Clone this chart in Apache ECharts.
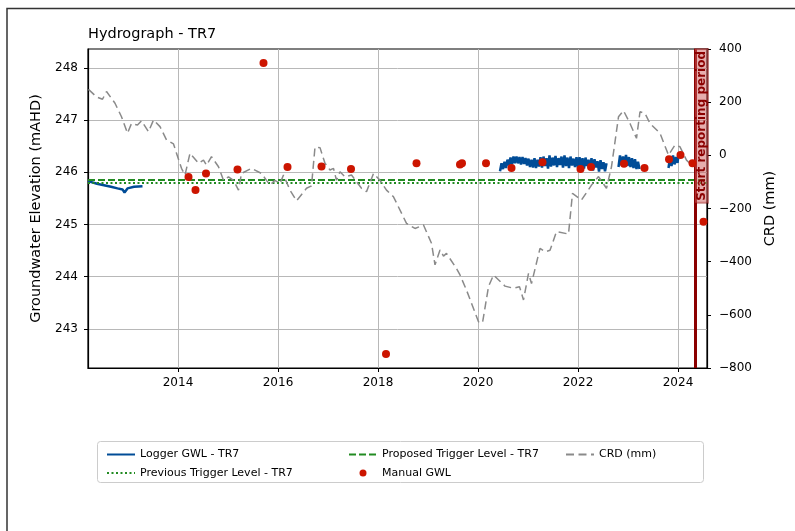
<!DOCTYPE html>
<html>
<head>
<meta charset="utf-8">
<script src="https://cdn.jsdelivr.net/npm/echarts@6/dist/echarts.min.js"></script>
<style>
  html, body { margin: 0; padding: 0; background: #fff; }
  #chart { width: 795px; height: 531px; }
</style>
</head>
<body>
<div id="chart"></div>
<script>
// logger groundwater level (decimal year / mAHD), null = gap between logger deployments
const loggerYears = [
  2012.20, 2012.24, 2012.38, 2012.52, 2012.66, 2012.79, 2012.89, 2012.93, 2012.99, 2013.12, 2013.29,
  2016.00,
  2020.44, 2020.47, 2020.50, 2020.53, 2020.56, 2020.59, 2020.62, 2020.65, 2020.68, 2020.71, 2020.74, 2020.77,
  2020.80, 2020.83, 2020.86, 2020.89, 2020.92, 2020.95, 2020.98, 2021.01, 2021.04, 2021.07, 2021.10, 2021.13,
  2021.16, 2021.19, 2021.22, 2021.25, 2021.28, 2021.31, 2021.34, 2021.37, 2021.40, 2021.43, 2021.46, 2021.49,
  2021.52, 2021.55, 2021.58, 2021.61, 2021.64, 2021.67, 2021.70, 2021.73, 2021.76, 2021.79, 2021.82, 2021.85,
  2021.88, 2021.91, 2021.94, 2021.97, 2022.00, 2022.03, 2022.06, 2022.09, 2022.12, 2022.15, 2022.18, 2022.21,
  2022.24, 2022.27, 2022.30, 2022.33, 2022.36, 2022.39, 2022.42, 2022.45, 2022.48, 2022.51, 2022.54, 2022.57,
  2022.70,
  2022.81, 2022.84, 2022.87, 2022.90, 2022.93, 2022.96, 2022.99, 2023.02, 2023.05, 2023.08, 2023.11, 2023.14,
  2023.17, 2023.20, 2023.23,
  2023.50,
  2023.81, 2023.84, 2023.87, 2023.90, 2023.93, 2023.96, 2023.99, 2024.01
];
const loggerLevels = [
  245.83, 245.82, 245.78, 245.75, 245.72, 245.69, 245.67, 245.61, 245.69, 245.72, 245.73,
  null,
  246.02, 246.17, 246.06, 246.20, 246.08, 246.24, 246.13, 246.28, 246.15, 246.30, 246.17, 246.30,
  246.17, 246.29, 246.15, 246.29, 246.16, 246.27, 246.13, 246.26, 246.10, 246.24, 246.09, 246.27,
  246.08, 246.24, 246.11, 246.29, 246.09, 246.30, 246.12, 246.27, 246.07, 246.32, 246.11, 246.28,
  246.13, 246.31, 246.10, 246.27, 246.14, 246.30, 246.09, 246.32, 246.12, 246.28, 246.08, 246.30,
  246.13, 246.26, 246.10, 246.29, 246.09, 246.29, 246.11, 246.27, 246.07, 246.28, 246.12, 246.24,
  246.05, 246.27, 246.03, 246.25, 246.09, 246.21, 246.01, 246.23, 246.06, 246.19, 246.02, 246.17,
  null,
  246.10, 246.32, 246.13, 246.30, 246.15, 246.33, 246.12, 246.29, 246.10, 246.27, 246.08, 246.25,
  246.06, 246.20, 246.06,
  null,
  246.08, 246.28, 246.12, 246.32, 246.15, 246.29, 246.18, 246.33
];

// manual dip readings
const manualYears = [
  2014.21, 2014.35, 2014.56, 2015.19, 2015.71, 2016.19, 2016.87, 2017.46, 2018.16, 2018.77,
  2019.64, 2019.68, 2020.16, 2020.67, 2021.29, 2022.05, 2022.26, 2022.92, 2023.33, 2023.82,
  2024.05, 2024.29, 2024.51
];
const manualLevels = [
  245.91, 245.66, 245.975, 246.05, 248.09, 246.10, 246.11, 246.06, 242.52, 246.17,
  246.15, 246.17, 246.17, 246.08, 246.19, 246.06, 246.10, 246.16, 246.08, 246.25,
  246.33, 246.17, 245.05
];

// cumulative rainfall departure (mm)
const crdYears = [
  2012.21, 2012.37, 2012.49, 2012.57, 2012.74, 2012.87, 2012.99, 2013.07, 2013.19, 2013.27,
  2013.41, 2013.51, 2013.64, 2013.77, 2013.91, 2013.97, 2014.07, 2014.14, 2014.24, 2014.41,
  2014.51, 2014.57, 2014.67, 2014.81, 2014.91, 2015.01, 2015.11, 2015.21, 2015.27, 2015.47,
  2015.67, 2015.77, 2015.84, 2015.94, 2016.04, 2016.11, 2016.24, 2016.37, 2016.57, 2016.67,
  2016.74, 2016.84, 2016.94, 2017.04, 2017.11, 2017.17, 2017.24, 2017.34, 2017.47, 2017.57,
  2017.67, 2017.77, 2017.91, 2018.04, 2018.17, 2018.31, 2018.57, 2018.74, 2018.91, 2019.07,
  2019.14, 2019.24, 2019.31, 2019.37, 2019.57, 2019.64, 2019.77, 2020.01, 2020.09, 2020.21,
  2020.31, 2020.54, 2020.71, 2020.83, 2020.91, 2021.01, 2021.07, 2021.24, 2021.34, 2021.44,
  2021.57, 2021.81, 2021.89, 2022.07, 2022.27, 2022.41, 2022.57, 2022.67, 2022.81, 2022.91,
  2023.04, 2023.17, 2023.24, 2023.34, 2023.44, 2023.64, 2023.81, 2023.94, 2024.04, 2024.17,
  2024.27
];
const crdValues = [
  248, 220, 211, 240, 196, 145, 83, 120, 114, 130,
  89, 133, 108, 58, 43, 8, -49, -74, 8, -30,
  -18, -37, -5, -43, -94, -81, -94, -131, -68, -49,
  -68, -94, -112, -94, -106, -74, -131, -171, -124, -115,
  31, 29, -30, -55, -49, -94, -62, -81, -74, -99,
  -124, -137, -68, -94, -131, -156, -256, -275, -262, -331,
  -412, -356, -379, -369, -426, -450, -507, -626, -630, -494,
  -450, -492, -500, -494, -544, -444, -482, -350, -363, -357,
  -287, -296, -143, -168, -112, -80, -124, -43, 145, 168,
  120, 64, 164, 158, 120, 83, 1, 39, 32, -18,
  -37
];

const proposedTrigger = 245.85;
const previousTrigger = 245.80;
const reportStart = 2024.34;

const yearTicks = [2014, 2016, 2018, 2020, 2022, 2024];
const levelTicks = [243, 244, 245, 246, 247, 248];

const FONT = 'DejaVu Sans';

const chart = echarts.init(document.getElementById('chart'), null, { renderer: 'canvas' });

const legendText = { fontFamily: FONT, fontSize: 11, color: '#000' };

let option = {
    animation: false,
    backgroundColor: '#fff',
    textStyle: { fontFamily: FONT },
    title: {
        text: 'Hydrograph - TR7',
        left: 88,
        top: 27,
        padding: 0,
        textStyle: { fontFamily: FONT, fontSize: 14.5, fontWeight: 'normal', color: '#000' }
    },
    grid: {
        left: 88,
        right: 88,
        top: 49,
        bottom: 163,
        show: true,
        borderColor: '#000',
        borderWidth: 1.2,
        containLabel: false
    },
    legend: [
        {
            orient: 'vertical', left: 101, top: 444, itemGap: 7.5, itemWidth: 28, itemHeight: 11,
            textStyle: legendText, itemStyle: { opacity: 0 },
            data: ['Logger GWL - TR7', 'Previous Trigger Level - TR7']
        },
        {
            orient: 'vertical', left: 343, top: 444, itemGap: 7.5, itemWidth: 28, itemHeight: 7,
            textStyle: legendText, itemStyle: { opacity: 0 },
            data: ['Proposed Trigger Level - TR7', { name: 'Manual GWL', itemStyle: { opacity: 1 } }]
        },
        {
            orient: 'vertical', left: 560, top: 444, itemGap: 7.5, itemWidth: 28, itemHeight: 11,
            textStyle: legendText, itemStyle: { opacity: 0 },
            data: ['CRD (mm)']
        }
    ],
    graphic: [
        {
            type: 'rect', silent: true,
            shape: { x: 97.5, y: 441.5, width: 606, height: 41, r: 3 },
            style: { fill: 'none', stroke: '#cccccc', lineWidth: 1 }
        },
        {
            type: 'polyline', silent: true,
            shape: { points: [[7, 531], [7, 8.5], [795, 8.5]] },
            style: { stroke: '#333', lineWidth: 1.5, fill: 'none' }
        }
    ],
    xAxis: {
        type: 'value',
        min: 2012.2,
        max: 2024.58,
        splitNumber: 5,
        axisLine: { show: true, onZero: false, lineStyle: { color: '#000', width: 1.2 } },
        axisTick: { show: true, length: 4, lineStyle: { color: '#000' }, customValues: yearTicks },
        axisLabel: {
            customValues: yearTicks,
            margin: 9, fontSize: 12, color: '#000', fontFamily: FONT,
            formatter: (v) => String(v)
        },
        splitLine: { show: true, lineStyle: { color: '#b8b8b8', width: 1 } }
    },
    yAxis: [
        {
            type: 'value',
            min: 242.25,
            max: 248.36,
            splitNumber: 5,
            name: 'Groundwater Elevation (mAHD)',
            nameLocation: 'middle',
            nameGap: 41,
            nameTextStyle: { fontFamily: FONT, fontSize: 14.5, color: '#000' },
            axisLine: { show: true, onZero: false, lineStyle: { color: '#000', width: 1.2 } },
            axisTick: { show: true, length: 4, lineStyle: { color: '#000' }, customValues: levelTicks },
            axisLabel: {
                customValues: levelTicks,
                margin: 10, fontSize: 12, color: '#000', fontFamily: FONT,
                formatter: (v) => String(v)
            },
            splitLine: { show: true, lineStyle: { color: '#b8b8b8', width: 1 } }
        },
        {
            type: 'value',
            min: -800,
            max: 400,
            interval: 200,
            position: 'right',
            name: 'CRD (mm)',
            nameLocation: 'middle',
            nameGap: 47,
            nameRotate: 90,
            nameTextStyle: { fontFamily: FONT, fontSize: 14.5, color: '#000' },
            axisLine: { show: true, onZero: false, lineStyle: { color: '#000', width: 1.2 } },
            axisTick: { show: true, length: 4, lineStyle: { color: '#000' } },
            axisLabel: {
                margin: 12, fontSize: 12, color: '#000', fontFamily: FONT,
                formatter: (v) => String(v).replace('-', '\u2212')
            },
            splitLine: { show: false }
        }
    ],
    series: [
        {
            name: 'Logger GWL - TR7',
            type: 'line',
            symbol: 'none',
            connectNulls: false,
            color: '#004c97',
            lineStyle: { color: '#004c97', width: 2.5 },
            data: loggerYears.map((y, i) => [y, loggerLevels[i] === null ? '-' : loggerLevels[i]]),
            z: 3
        },
        {
            name: 'Previous Trigger Level - TR7',
            type: 'line',
            symbol: 'none',
            color: '#228b22',
            lineStyle: { color: '#228b22', width: 2, type: [2, 2.5] },
            data: [],
            markLine: {
                silent: true, symbol: 'none', label: { show: false },
                lineStyle: { color: '#228b22', width: 2, type: [2, 2.5] },
                data: [{ yAxis: previousTrigger }]
            },
            z: 4
        },
        {
            name: 'Proposed Trigger Level - TR7',
            type: 'line',
            symbol: 'none',
            color: '#228b22',
            lineStyle: { color: '#228b22', width: 2, type: [7, 3] },
            data: [],
            markLine: {
                silent: true, symbol: 'none', label: { show: false },
                lineStyle: { color: '#228b22', width: 2, type: [7, 3] },
                data: [{ yAxis: proposedTrigger }]
            },
            z: 4
        },
        {
            name: 'Manual GWL',
            type: 'scatter',
            symbol: 'circle',
            symbolSize: 8,
            color: '#cc1500',
            itemStyle: { color: '#cc1500', opacity: 1 },
            data: manualYears.map((y, i) => [y, manualLevels[i]]),
            z: 6
        },
        {
            name: 'CRD (mm)',
            type: 'line',
            yAxisIndex: 1,
            symbol: 'none',
            color: '#8a8a8a',
            lineStyle: { color: '#8a8a8a', width: 1.5, type: [8, 4.5] },
            data: crdYears.map((y, i) => [y, crdValues[i]]),
            z: 5
        },
        {
            name: 'Start reporting period',
            type: 'line',
            data: [],
            markLine: {
                silent: true,
                symbol: 'none',
                lineStyle: { color: '#8b0000', width: 3, type: 'solid' },
                label: {
                    show: true,
                    position: 'insideEndBottom',
                    formatter: 'Start reporting period',
                    color: '#8b0000',
                    fontWeight: 'bold',
                    fontSize: 12,
                    fontFamily: FONT,
                    backgroundColor: 'rgba(205,92,92,0.5)',
                    borderColor: 'rgba(139,0,0,0.45)',
                    borderWidth: 1,
                    padding: [1, 2, 0, 2],
                    distance: 0
                },
                data: [{ xAxis: reportStart }]
            },
            z: 7
        }
    ]
};

chart.setOption(option);
</script>
</body>
</html>
